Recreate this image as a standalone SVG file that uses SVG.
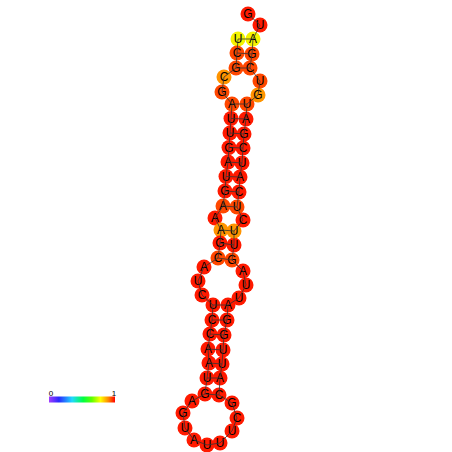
<svg xmlns="http://www.w3.org/2000/svg" width="452" height="452" viewBox="0 0 452 452">
<defs>
<style>
circle{stroke:none}
.r{fill:#ff1a00}.q{fill:#ff4800}.o{fill:#ff9400}.y{fill:#f4f200}
text{font-family:"Liberation Sans",Arial,sans-serif;font-size:12px;fill:#000;text-anchor:middle}
.bb{fill:none;stroke:#333;stroke-width:0.8}
.bp{stroke:#333;stroke-width:0.8}
.lab{font-size:8px}
</style>
<linearGradient id="cb" x1="0" y1="0" x2="1" y2="0">
<stop offset="0" stop-color="#a23cff"/>
<stop offset="0.15" stop-color="#2a2aff"/>
<stop offset="0.35" stop-color="#20d8ff"/>
<stop offset="0.52" stop-color="#00ff40"/>
<stop offset="0.65" stop-color="#60ff00"/>
<stop offset="0.78" stop-color="#ffff00"/>
<stop offset="0.9" stop-color="#ff8800"/>
<stop offset="1" stop-color="#ff0000"/>
</linearGradient>
</defs>
<rect width="452" height="452" fill="#fff"/>
<g id="nodes">
<g id="n1"><circle class="y" cx="238" cy="39" r="7.5"/><text x="238" y="43.3">U</text></g>
<g id="n2"><circle class="q" cx="237" cy="53" r="7.5"/><text x="237" y="57.3">C</text></g>
<g id="n3"><circle class="q" cx="236" cy="68" r="7.5"/><text x="236" y="72.3">G</text></g>
<g id="n4"><circle class="o" cx="224" cy="77" r="7.5"/><text x="224" y="81.3">C</text></g>
<g id="n5"><circle class="q" cx="222" cy="92" r="7.5"/><text x="222" y="96.3">G</text></g>
<g id="n6"><circle class="q" cx="232" cy="104" r="7.5"/><text x="232" y="108.3">A</text></g>
<g id="n7"><circle class="r" cx="231" cy="118.5" r="7.5"/><text x="231" y="122.8">U</text></g>
<g id="n8"><circle class="r" cx="230" cy="133" r="7.5"/><text x="230" y="137.3">U</text></g>
<g id="n9"><circle class="r" cx="229" cy="147.5" r="7.5"/><text x="229" y="151.8">G</text></g>
<g id="n10"><circle class="r" cx="228" cy="162" r="7.5"/><text x="228" y="166.3">A</text></g>
<g id="n11"><circle class="r" cx="226" cy="176.5" r="7.5"/><text x="226" y="180.8">U</text></g>
<g id="n12"><circle class="r" cx="225" cy="191" r="7.5"/><text x="225" y="195.3">G</text></g>
<g id="n13"><circle class="q" cx="223" cy="206" r="7.5"/><text x="223" y="210.3">A</text></g>
<g id="n14"><circle class="r" cx="215" cy="218" r="7.5"/><text x="215" y="222.3">A</text></g>
<g id="n15"><circle class="o" cx="221" cy="230" r="7.5"/><text x="221" y="234.3">A</text></g>
<g id="n16"><circle class="r" cx="220" cy="243" r="7.5"/><text x="220" y="247.3">G</text></g>
<g id="n17"><circle class="q" cx="218" cy="258" r="7.5"/><text x="218" y="262.3">C</text></g>
<g id="n18"><circle class="r" cx="204" cy="267" r="7.5"/><text x="204" y="271.3">A</text></g>
<g id="n19"><circle class="r" cx="198" cy="281" r="7.5"/><text x="198" y="285.3">U</text></g>
<g id="n20"><circle class="r" cx="202" cy="295" r="7.5"/><text x="202" y="299.3">C</text></g>
<g id="n21"><circle class="r" cx="213" cy="305" r="7.5"/><text x="213" y="309.3">U</text></g>
<g id="n22"><circle class="r" cx="212" cy="320" r="7.5"/><text x="212" y="324.3">C</text></g>
<g id="n23"><circle class="r" cx="210" cy="334" r="7.5"/><text x="210" y="338.3">C</text></g>
<g id="n24"><circle class="r" cx="208" cy="349" r="7.5"/><text x="208" y="353.3">A</text></g>
<g id="n25"><circle class="r" cx="209" cy="363" r="7.5"/><text x="209" y="367.3">A</text></g>
<g id="n26"><circle class="r" cx="207" cy="378" r="7.5"/><text x="207" y="382.3">U</text></g>
<g id="n27"><circle class="r" cx="205" cy="394" r="7.5"/><text x="205" y="398.3">G</text></g>
<g id="n28"><circle class="r" cx="192" cy="401" r="7.5"/><text x="192" y="405.3">A</text></g>
<g id="n29"><circle class="r" cx="183" cy="413" r="7.5"/><text x="183" y="417.3">G</text></g>
<g id="n30"><circle class="r" cx="185" cy="428" r="7.5"/><text x="185" y="432.3">U</text></g>
<g id="n31"><circle class="r" cx="194" cy="440" r="7.5"/><text x="194" y="444.3">A</text></g>
<g id="n32"><circle class="r" cx="207" cy="445" r="7.5"/><text x="207" y="449.3">U</text></g>
<g id="n33"><circle class="r" cx="220" cy="443" r="7.5"/><text x="220" y="447.3">U</text></g>
<g id="n34"><circle class="r" cx="232" cy="431" r="7.5"/><text x="232" y="435.3">U</text></g>
<g id="n35"><circle class="r" cx="237" cy="418" r="7.5"/><text x="237" y="422.3">C</text></g>
<g id="n36"><circle class="r" cx="232" cy="403" r="7.5"/><text x="232" y="407.3">G</text></g>
<g id="n37"><circle class="r" cx="219" cy="395" r="7.5"/><text x="219" y="399.3">C</text></g>
<g id="n38"><circle class="r" cx="220" cy="378" r="7.5"/><text x="220" y="382.3">A</text></g>
<g id="n39"><circle class="r" cx="222" cy="364" r="7.5"/><text x="222" y="368.3">U</text></g>
<g id="n40"><circle class="r" cx="223" cy="350" r="7.5"/><text x="223" y="354.3">U</text></g>
<g id="n41"><circle class="r" cx="224" cy="335" r="7.5"/><text x="224" y="339.3">G</text></g>
<g id="n42"><circle class="r" cx="227" cy="320" r="7.5"/><text x="227" y="324.3">G</text></g>
<g id="n43"><circle class="r" cx="228" cy="305" r="7.5"/><text x="228" y="309.3">A</text></g>
<g id="n44"><circle class="r" cx="239" cy="298" r="7.5"/><text x="239" y="302.3">U</text></g>
<g id="n45"><circle class="r" cx="246" cy="285" r="7.5"/><text x="246" y="289.3">U</text></g>
<g id="n46"><circle class="r" cx="243" cy="271" r="7.5"/><text x="243" y="275.3">A</text></g>
<g id="n47"><circle class="q" cx="232" cy="260" r="7.5"/><text x="232" y="264.3">G</text></g>
<g id="n48"><circle class="r" cx="234" cy="245" r="7.5"/><text x="234" y="249.3">U</text></g>
<g id="n49"><circle class="o" cx="234" cy="231" r="7.5"/><text x="234" y="235.3">U</text></g>
<g id="n50"><circle class="r" cx="243" cy="220" r="7.5"/><text x="243" y="224.3">C</text></g>
<g id="n51"><circle class="q" cx="237" cy="207" r="7.5"/><text x="237" y="211.3">U</text></g>
<g id="n52"><circle class="r" cx="239" cy="192" r="7.5"/><text x="239" y="196.3">C</text></g>
<g id="n53"><circle class="r" cx="240" cy="177" r="7.5"/><text x="240" y="181.3">A</text></g>
<g id="n54"><circle class="r" cx="242" cy="163" r="7.5"/><text x="242" y="167.3">U</text></g>
<g id="n55"><circle class="r" cx="243" cy="148" r="7.5"/><text x="243" y="152.3">C</text></g>
<g id="n56"><circle class="r" cx="244" cy="134" r="7.5"/><text x="244" y="138.3">G</text></g>
<g id="n57"><circle class="r" cx="246" cy="119" r="7.5"/><text x="246" y="123.3">A</text></g>
<g id="n58"><circle class="q" cx="247" cy="104" r="7.5"/><text x="247" y="108.3">U</text></g>
<g id="n59"><circle class="o" cx="258" cy="95" r="7.5"/><text x="258" y="99.3">G</text></g>
<g id="n60"><circle class="q" cx="260" cy="81" r="7.5"/><text x="260" y="85.3">U</text></g>
<g id="n61"><circle class="q" cx="250" cy="68" r="7.5"/><text x="250" y="72.3">C</text></g>
<g id="n62"><circle class="q" cx="252" cy="54" r="7.5"/><text x="252" y="58.3">G</text></g>
<g id="n63"><circle class="y" cx="253" cy="39" r="7.5"/><text x="253" y="43.3">A</text></g>
<g id="n64"><circle class="r" cx="260" cy="25" r="7.5"/><text x="260" y="29.3">U</text></g>
<g id="n65"><circle class="r" cx="248" cy="14" r="7.5"/><text x="248" y="18.3">G</text></g>
</g>
<g id="connectors">
<polyline class="bb" points="238,39 237,53 236,68 224,77 222,92 232,104 231,118.5 230,133 229,147.5 228,162 226,176.5 225,191 223,206 215,218 221,230 220,243 218,258 204,267 198,281 202,295 213,305 212,320 210,334 208,349 209,363 207,378 205,394 192,401 183,413 185,428 194,440 207,445 220,443 232,431 237,418 232,403 219,395 220,378 222,364 223,350 224,335 227,320 228,305 239,298 246,285 243,271 232,260 234,245 234,231 243,220 237,207 239,192 240,177 242,163 243,148 244,134 246,119 247,104 258,95 260,81 250,68 252,54 253,39 260,25 248,14"/>
<line class="bp" x1="238" y1="39" x2="253" y2="39"/>
<line class="bp" x1="237" y1="53" x2="252" y2="54"/>
<line class="bp" x1="236" y1="68" x2="250" y2="68"/>
<line class="bp" x1="232" y1="104" x2="247" y2="104"/>
<line class="bp" x1="231" y1="118.5" x2="246" y2="119"/>
<line class="bp" x1="230" y1="133" x2="244" y2="134"/>
<line class="bp" x1="229" y1="147.5" x2="243" y2="148"/>
<line class="bp" x1="228" y1="162" x2="242" y2="163"/>
<line class="bp" x1="226" y1="176.5" x2="240" y2="177"/>
<line class="bp" x1="225" y1="191" x2="239" y2="192"/>
<line class="bp" x1="223" y1="206" x2="237" y2="207"/>
<line class="bp" x1="221" y1="230" x2="234" y2="231"/>
<line class="bp" x1="220" y1="243" x2="234" y2="245"/>
<line class="bp" x1="218" y1="258" x2="232" y2="260"/>
<line class="bp" x1="213" y1="305" x2="228" y2="305"/>
<line class="bp" x1="212" y1="320" x2="227" y2="320"/>
<line class="bp" x1="210" y1="334" x2="224" y2="335"/>
<line class="bp" x1="208" y1="349" x2="223" y2="350"/>
<line class="bp" x1="209" y1="363" x2="222" y2="364"/>
<line class="bp" x1="207" y1="378" x2="220" y2="378"/>
<line class="bp" x1="205" y1="394" x2="219" y2="395"/>
</g>
<g id="colorbar">
<rect x="49" y="396.5" width="66" height="6" fill="url(#cb)"/>
<text class="lab" x="51" y="395.5">0</text>
<text class="lab" x="114" y="395.5">1</text>
</g>
</svg>
